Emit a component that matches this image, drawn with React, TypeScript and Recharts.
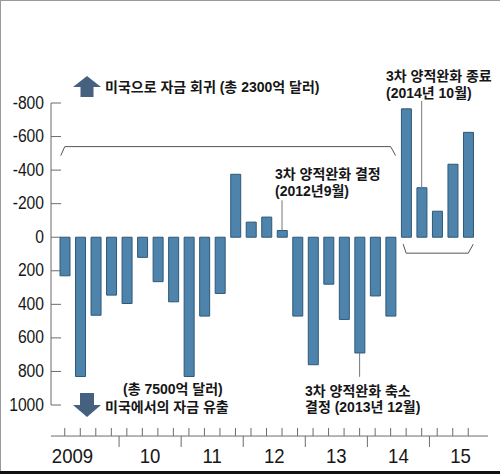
import React from "react";
import { BarChart, Bar, XAxis, YAxis, ReferenceLine } from "recharts";

// quarterly net capital flow (억 달러); positive = outflow from US (drawn downward)
const periods = [
  "2009Q1", "2009Q2", "2009Q3", "2009Q4",
  "2010Q1", "2010Q2", "2010Q3", "2010Q4",
  "2011Q1", "2011Q2", "2011Q3", "2011Q4",
  "2012Q1", "2012Q2", "2012Q3", "2012Q4",
  "2013Q1", "2013Q2", "2013Q3", "2013Q4",
  "2014Q1", "2014Q2", "2014Q3", "2014Q4",
  "2015Q1", "2015Q2", "2015Q3",
];
const flows = [
  230, 830, 465, 345,
  395, 120, 265, 385,
  830, 470, 335, -375,
  -90, -120, -40, 470,
  760, 280, 490, 690,
  350, 470, -765, -295,
  -155, -435, -625,
];
const yearLabels = ["2009", "10", "11", "12", "13", "14", "15"];
const yTicks = [-800, -600, -400, -200, 0, 200, 400, 600, 800, 1000];

const data = periods.map((p, i) => ({ p, v: flows[i] }));

const W = 500;
const H = 474;
const PLOT_LEFT = 51;
const PLOT_RIGHT = 488;
const PAD_L = 6;
const PAD_R = 12;
const BAND = (PLOT_RIGHT - PLOT_LEFT - PAD_L - PAD_R) / periods.length;

const AXIS = "#6b6b6b";
const INK = "#161616";
const BAR = "#4e84ab";
const BAR_EDGE = "#2f5878";
const ARROW = "#46607f";
const KFONT = "'Liberation Sans', 'Noto Sans CJK KR', sans-serif";
const NFONT = "'Liberation Sans', Arial, sans-serif";

function QuarterTick(props: any) {
  const { x, y, payload } = props;
  const i = payload.index;
  const q = i % 4;
  const yr = Math.floor(i / 4);
  const base = y + 31;
  let label = null;
  const labelAt = yr === 0 ? 0 : 1;
  if (q === labelAt) {
    label = (
      <text
        transform={`translate(${x + BAND / 2},${base + 27}) scale(0.93,1)`}
        textAnchor="middle"
        fontSize={20}
        fontFamily={NFONT}
        fill={INK}
      >
        {yearLabels[yr]}
      </text>
    );
  }
  return (
    <g>
      <line x1={x} x2={x} y1={base - 8} y2={base} stroke={AXIS} />
      {q === 3 && (
        <line x1={x + BAND / 2} x2={x + BAND / 2} y1={base} y2={base + 11} stroke={AXIS} />
      )}
      {label}
    </g>
  );
}

function ValueTick(props: any) {
  const { x, y, payload } = props;
  return (
    <g>
      <line x1={x + 7} x2={x + 17} y1={y} y2={y} stroke={AXIS} />
      <text
        transform={`translate(${x},${y + 5.5}) scale(0.87,1)`}
        textAnchor="end"
        fontSize={18}
        fontFamily={NFONT}
        fill={INK}
      >
        {payload.value}
      </text>
    </g>
  );
}

// bracket: horizontal run between two bar centres with slanted ends
const bracket = (dir: number, dl: number, dr: number) => (p: any) => {
  const xa = Math.min(p.x1, p.x2);
  const xb = Math.max(p.x1, p.x2);
  const yy = p.y1;
  return (
    <path
      d={`M${xa - dl},${yy + 9 * dir}L${xa},${yy}L${xb},${yy}L${xb + dr},${yy + 9 * dir}`}
      fill="none"
      stroke="#555"
      strokeWidth={1}
    />
  );
};

const note = { fontSize: 14, fontWeight: 700, fontFamily: KFONT, fill: INK } as const;

export default function App() {
  return (
    <div
      style={{
        position: "absolute",
        left: 0,
        top: 0,
        width: W,
        height: H,
        background: "#fff",
        overflow: "hidden",
      }}
    >
      <BarChart
        width={W}
        height={H}
        data={data}
        margin={{ top: 103, right: W - PLOT_RIGHT, bottom: 9, left: 0 }}
        barSize={10}
      >
        <XAxis
          dataKey="p"
          height={60}
          interval={0}
          axisLine={false}
          tickLine={false}
          tickSize={0}
          tickMargin={0}
          padding={{ left: PAD_L, right: PAD_R }}
          tick={<QuarterTick />}
        />
        <YAxis
          type="number"
          reversed
          domain={[-800, 1000]}
          ticks={yTicks}
          interval={0}
          width={PLOT_LEFT}
          axisLine={{ stroke: AXIS }}
          tickLine={false}
          tickSize={0}
          tickMargin={7}
          tick={<ValueTick />}
          allowDataOverflow
        />
        <ReferenceLine y={1185} stroke={AXIS} ifOverflow="visible" />
        <ReferenceLine
          segment={[{ x: "2009Q1", y: -540 }, { x: "2014Q2", y: -540 }]}
          ifOverflow="visible"
          shape={bracket(1, 4, 5)}
        />
        <ReferenceLine
          segment={[{ x: "2014Q3", y: 95 }, { x: "2015Q3", y: 95 }]}
          ifOverflow="visible"
          shape={bracket(-1, 3, 5)}
        />
        <ReferenceLine
          segment={[{ x: "2012Q3", y: -40 }, { x: "2012Q3", y: -220 }]}
          stroke="#777"
          ifOverflow="visible"
        />
        <ReferenceLine
          segment={[{ x: "2014Q4", y: -295 }, { x: "2014Q4", y: -812 }]}
          stroke="#777"
          ifOverflow="visible"
        />
        <ReferenceLine
          segment={[{ x: "2013Q4", y: 690 }, { x: "2013Q4", y: 832 }]}
          stroke="#777"
          ifOverflow="visible"
        />
        <Bar dataKey="v" fill={BAR} stroke={BAR_EDGE} strokeWidth={1} isAnimationActive={false} />
      </BarChart>

      <svg
        width={W}
        height={H}
        style={{ position: "absolute", left: 0, top: 0, pointerEvents: "none" }}
      >
        <line x1={0} x2={W} y1={0.5} y2={0.5} stroke="#999" />
        <line x1={0.5} x2={0.5} y1={0} y2={H} stroke="#999" />
        <rect x={0} y={471} width={W} height={3} fill="#111" />

        <path d="M73,87 L87,76 L101,87 L93.5,87 L93.5,97 L80.5,97 L80.5,87 Z" fill={ARROW} />
        <path d="M80,393 L94,393 L94,405 L101,405 L87,417 L73,405 L80,405 Z" fill={ARROW} />

        <text x={105} y={92} {...note}>미국으로 자금 회귀 (총 2300억 달러)</text>
        <text x={386} y={80.5} {...note}>3차 양적완화 종료</text>
        <text x={386} y={97.5} {...note}>(2014년 10월)</text>
        <text x={275} y={178.5} {...note}>3차 양적완화 결정</text>
        <text x={275} y={195.5} {...note}>(2012년9월)</text>
        <text x={123} y={393.5} {...note}>(총 7500억 달러)</text>
        <text x={105} y={411.5} {...note}>미국에서의 자금 유출</text>
        <text x={305} y={395.5} {...note}>3차 양적완화 축소</text>
        <text x={305} y={411.5} {...note}>결정 (2013년 12월)</text>
      </svg>
    </div>
  );
}
